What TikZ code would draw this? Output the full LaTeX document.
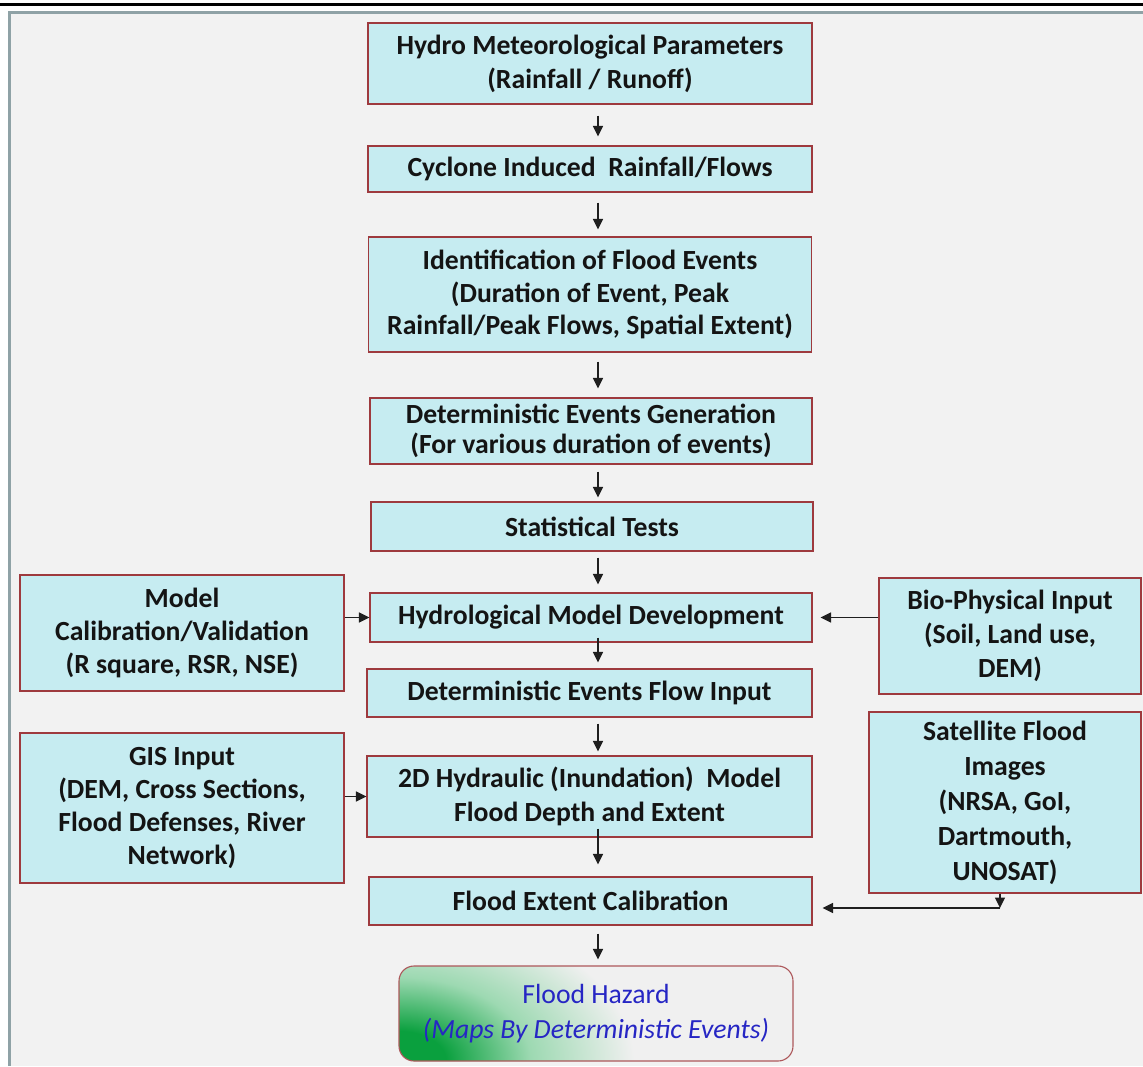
\documentclass[tikz,border=0pt]{standalone}
\usepackage{fontspec}
\setmainfont{Carlito}
\usetikzlibrary{arrows.meta,calc}

\definecolor{boxfill}{RGB}{198,236,241}
\definecolor{boxline}{RGB}{158,58,62}
\definecolor{panelbg}{RGB}{242,242,242}
\definecolor{panelrule}{RGB}{143,162,166}
\definecolor{hazblue}{RGB}{38,38,196}
\definecolor{hazgreen}{RGB}{10,160,62}
\definecolor{hazpale}{RGB}{240,240,240}

% green glow spreading from the lower left corner of the result box
\pgfdeclareradialshading{hazardglow}{\pgfpoint{0bp}{0bp}}{%
  color(0bp)=(hazgreen); color(5bp)=(hazgreen);
  color(14bp)=(hazgreen!40!white); color(25bp)=(hazpale);
  color(50bp)=(hazpale)}

\begin{document}
\begin{tikzpicture}[x=1pt,y=-1pt,
  box/.style={draw=boxline, line width=1.1pt, fill=boxfill, align=center,
    inner sep=0pt, text=black!92,
    font=\fontsize{27.7}{33}\selectfont\bfseries},
  arr/.style={line width=1.4pt, draw=black!88,
    -{Triangle[length=10.5pt,width=10pt]}},
]
\useasboundingbox (0,0) rectangle (1143,1066);

% page rule and panel
\fill[black] (0,3) rectangle (1143,6);
\fill[panelbg] (9,12) rectangle (1143,1066);
\draw[panelrule, line width=3pt] (1143,12.5) -- (9,12.5) -- (9,1066);

% main column
\node[box, minimum width=444pt, minimum height=81pt, font=\fontsize{27.7}{34}\selectfont\bfseries] (hydro) at (590,63.5)
  {Hydro Meteorological Parameters\\(Rainfall / Runoff)};
\node[box, minimum width=444pt, minimum height=46pt] (cyclone) at (590,169)
  {Cyclone Induced\ \ Rainfall/Flows};
\node[box, minimum width=443pt, minimum height=115pt, font=\fontsize{27.7}{32.5}\selectfont\bfseries] (ident) at (590,294.5)
  {Identification of Flood Events\\(Duration of Event, Peak\\Rainfall/Peak Flows, Spatial Extent)};
\node[box, minimum width=442pt, minimum height=66pt, font=\fontsize{27.7}{30}\selectfont\bfseries] (detgen) at (591,431)
  {Deterministic Events Generation\\(For various duration of events)};
\node[box, minimum width=442pt, minimum height=49pt] (stat) at (592,526.5)
  {Statistical Tests};
\node[box, minimum width=442pt, minimum height=49pt] (hyddev) at (591,617.5)
  {Hydrological Model Development};
\node[box, minimum width=445pt, minimum height=48pt] (flowin) at (589.5,693)
  {Deterministic Events Flow Input};
\node[box, minimum width=445pt, minimum height=81pt, font=\fontsize{27.7}{34}\selectfont\bfseries] (hydraulic) at (589.5,796.5)
  {2D Hydraulic (Inundation)\ \ Model\\Flood Depth and Extent};
\node[box, minimum width=443pt, minimum height=48pt] (extcal) at (590.5,901)
  {Flood Extent Calibration};
\node[draw=boxline!85, line width=1.1pt, rounded corners=15pt,
  minimum width=394pt, minimum height=95pt, inner sep=0pt,
  path picture={
    \fill[hazpale] (path picture bounding box.south west)
      rectangle (path picture bounding box.north east);
    \shade[shading=hazardglow] (path picture bounding box.south west)
      ellipse [x radius=235pt, y radius=150pt];
  },
  align=center, text=hazblue,
  font=\fontsize{27.7}{35}\selectfont] (hazard) at (596,1013.5)
  {Flood Hazard\\\textit{(Maps By Deterministic Events)}};

% side inputs
\node[box, minimum width=324pt, minimum height=116pt] (modcal) at (182,633)
  {Model\\Calibration/Validation\\(R square, RSR, NSE)};
\node[box, minimum width=324pt, minimum height=150pt, font=\fontsize{27.7}{33.3}\selectfont\bfseries] (gis) at (182,808)
  {GIS Input\\(DEM, Cross Sections,\\Flood Defenses, River\\Network)};
\node[box, minimum width=262pt, minimum height=116pt, font=\fontsize{27.7}{34}\selectfont\bfseries] (bio) at (1010,636)
  {Bio-Physical Input\\(Soil, Land use,\\DEM)};
\node[box, minimum width=272pt, minimum height=181pt, font=\fontsize{27.7}{35}\selectfont\bfseries] (sat) at (1005,802.5)
  {Satellite Flood\\Images\\(NRSA, GoI,\\Dartmouth,\\UNOSAT)};

% vertical flow
\coordinate (axis) at (598,0);
\draw[arr, shorten <=11pt, shorten >=9pt] (hydro.south -| axis) -- (cyclone.north -| axis);
\draw[arr, shorten <=10pt, shorten >=7pt] (cyclone.south -| axis) -- (ident.north -| axis);
\draw[arr, shorten <=9pt, shorten >=9pt] (ident.south -| axis) -- (detgen.north -| axis);
\draw[arr, shorten <=7pt, shorten >=4pt] (detgen.south -| axis) -- (stat.north -| axis);
\draw[arr, shorten <=6pt, shorten >=8pt] (stat.south -| axis) -- (hyddev.north -| axis);
\draw[arr, shorten <=-5pt, shorten >=6pt] (hyddev.south -| axis) -- (flowin.north -| axis);
\draw[arr, shorten <=6pt, shorten >=4pt] (flowin.south -| axis) -- (hydraulic.north -| axis);
\draw[arr, shorten <=-9pt, shorten >=12pt] (hydraulic.south -| axis) -- (extcal.north -| axis);
\draw[arr, shorten <=8pt, shorten >=6pt] (extcal.south -| axis) -- (hazard.north -| axis);

% side connectors
\draw[arr] (modcal.east |- hyddev.west) -- (hyddev.west);
\draw[arr, shorten >=8pt] (bio.west |- hyddev.east) -- (hyddev.east);
\draw[arr] (gis.east |- hydraulic.west) -- (hydraulic.west);
\coordinate (satturn) at (1000,908);
\draw[arr] (sat.south -| satturn) -- (satturn);
\draw[arr, shorten >=10pt] (satturn) -- (extcal.east |- satturn);
\end{tikzpicture}
\end{document}
